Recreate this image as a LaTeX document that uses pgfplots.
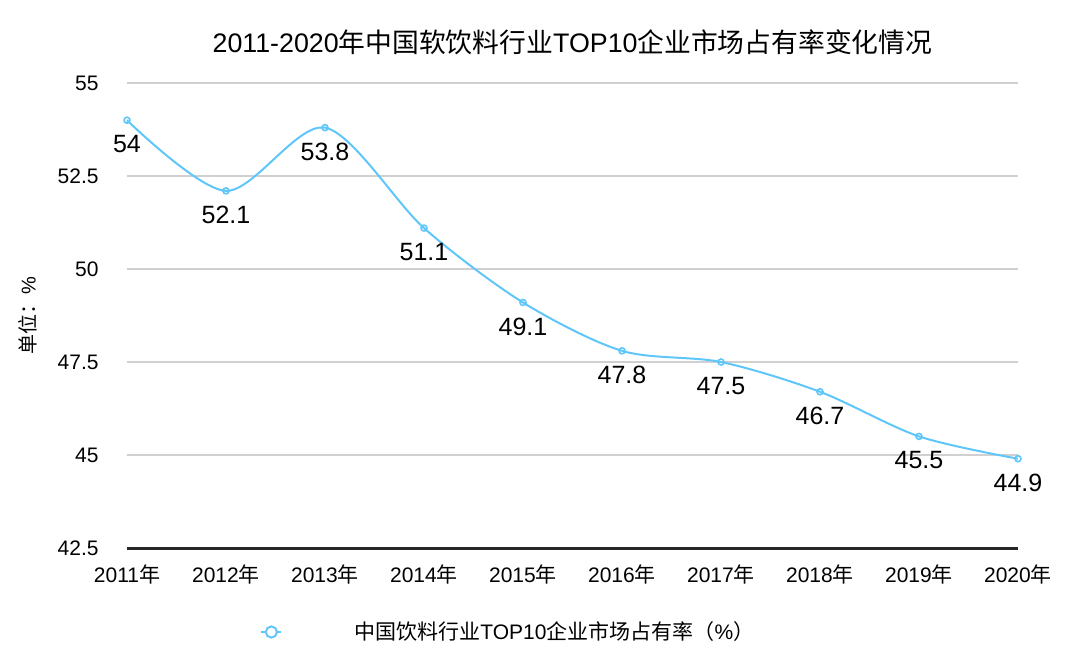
\documentclass[border=0pt]{standalone}
\usepackage{pgfplots}
\pgfplotsset{compat=1.18}
\usepackage{fontspec}
\setmainfont{Liberation Sans}
\newfontfamily\cjk{Noto Sans CJK SC}
\definecolor{lineblue}{RGB}{95,198,250}
\definecolor{gridgray}{RGB}{208,208,208}

\begin{document}
\begin{tikzpicture}
\useasboundingbox (-63.5pt,-56pt) rectangle (476.5pt,274pt);
\begin{axis}[
    at={(0,0)}, anchor=south west,
    scale only axis,
    width=445.5pt, height=232.5pt,
    xmin=0, xmax=9,
    ymin=42.5, ymax=55,
    xtick={0,1,2,3,4,5,6,7,8,9},
    xticklabels={2011{\cjk 年},2012{\cjk 年},2013{\cjk 年},2014{\cjk 年},2015{\cjk 年},2016{\cjk 年},2017{\cjk 年},2018{\cjk 年},2019{\cjk 年},2020{\cjk 年}},
    ytick={42.5,45,47.5,50,52.5,55},
    yticklabels={\llap{42.5},\llap{45},\llap{47.5},\llap{50},\llap{52.5},\llap{55}},
    ymajorgrids=true,
    grid style={gridgray, line width=0.6pt},
    axis lines*=left,
    y axis line style={draw=none},
    x axis line style={draw=black!85, line width=1.5pt, -},
    major tick length=0pt,
    ticklabel style={font=\fontsize{10.5}{12}\selectfont},
    yticklabel style={inner xsep=0pt, xshift=-13.5pt},
    xticklabel style={yshift=-5pt},
    clip=false,
    nodes near coords,
    every node near coord/.append style={anchor=center, yshift=-12pt, font=\fontsize{12.5}{14}\selectfont, text=black},
    legend style={at={(0,0)}, anchor=west, xshift=63.5pt, yshift=-42pt, draw=none, fill=none,
        font=\fontsize{10.5}{12}\selectfont},
]
\addplot[color=lineblue, line width=1pt, smooth, tension=0.5,
    mark=o, mark size=1.5pt, mark options={line width=0.8pt, fill=white},
    point meta=explicit symbolic,
    legend image code/.code={
        \draw[lineblue, line width=1pt] (-5pt,0pt) -- (5pt,0pt);
        \draw[lineblue, line width=1pt, fill=white] (0pt,0pt) circle (2.8pt);
        \path[draw=none] (0pt,0pt) -- (39.5pt,0pt);
    }]
  coordinates {
    (0, 54.0) [54]
    (1, 52.1) [52.1]
    (2, 53.8) [53.8]
    (3, 51.1) [51.1]
    (4, 49.1) [49.1]
    (5, 47.8) [47.8]
    (6, 47.5) [47.5]
    (7, 46.7) [46.7]
    (8, 45.5) [45.5]
    (9, 44.9) [44.9]
};
\addlegendentry{{\cjk 中国饮料行业}TOP10{\cjk 企业市场占有率（}\%{\cjk ）}}

\node[font=\fontsize{13.4}{15}\selectfont] at (rel axis cs:0.5,1) [yshift=20.5pt]
    {2011-2020{\cjk 年中国软饮料行业}TOP10{\cjk 企业市场占有率变化情况}};
\node[font=\fontsize{10}{12}\selectfont] at (rel axis cs:0,0.5) [xshift=-49.5pt, rotate=90]
    {{\cjk 单位：}\%};
\end{axis}
\end{tikzpicture}
\end{document}
